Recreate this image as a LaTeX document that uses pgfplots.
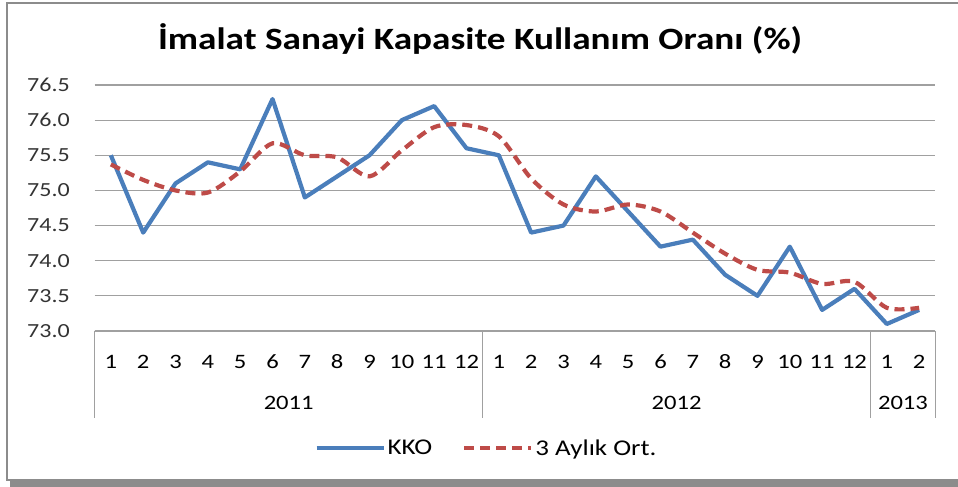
\documentclass[border=0pt]{standalone}
\usepackage{pgfplots}
\pgfplotsset{compat=1.18}
\usepackage{fontspec}
\setmainfont{Carlito}[FakeStretch=1.2]
\definecolor{kko}{HTML}{4A7EBB}
\definecolor{ort}{HTML}{BE4B48}
\definecolor{gridc}{HTML}{A0A0A0}
\definecolor{framec}{HTML}{8C8C8C}
\begin{document}
\begin{tikzpicture}
\useasboundingbox (0,0) rectangle (958bp,487bp);
% frame and shadow
\fill[framec] (10bp,0bp) rectangle (958bp,5.5bp);
\draw[framec, line width=1.5bp] (962bp,484bp) -- (7bp,484bp) -- (7bp,7bp) -- (962bp,7bp);
% title
\node[anchor=base, inner sep=0pt] at (480bp,437bp) {\fontsize{31bp}{36bp}\selectfont\bfseries İmalat Sanayi Kapasite Kullanım Oranı (\%)};
\begin{axis}[
  at={(94.7bp,156bp)}, anchor=south west,
  scale only axis, width=840.6bp, height=246bp,
  xmin=-0.5, xmax=25.5, ymin=73, ymax=76.5,
  clip=false,
  axis x line*=bottom,
  axis y line*=left,
  x axis line style={gridc, line width=1.2bp, -},
  y axis line style={draw=none},
  ytick={73,73.5,74,74.5,75,75.5,76,76.5},
  ymajorgrids, grid style={gridc, line width=1.2bp},
  major tick length=0pt,
  xtick={0,...,25},
  xticklabels={1,2,3,4,5,6,7,8,9,10,11,12,1,2,3,4,5,6,7,8,9,10,11,12,1,2},
  xticklabel style={anchor=center, yshift=-30.7bp, inner sep=0pt, font=\fontsize{20.5bp}{24bp}\selectfont},
  yticklabel style={anchor=east, xshift=-24.7bp, inner sep=0pt, font=\fontsize{20bp}{24bp}\selectfont, text=black!80},
  /pgf/number format/assume math mode=true,
  /pgf/number format/.cd, fixed, fixed zerofill, precision=1, /pgfplots/.cd,
  legend columns=2,
  legend style={at={(0.466,-0.4756)}, anchor=center, draw=none, fill=none,
    font=\fontsize{22.5bp}{26bp}\selectfont,
    /tikz/every even column/.append style={column sep=28bp}},
  legend image code/.code={\draw[#1] (0bp,0bp) -- (67bp,0bp);},
]
\addplot[kko, line width=4.2bp, line join=round] coordinates {
(0,75.5)(1,74.4)(2,75.1)(3,75.4)(4,75.3)(5,76.3)(6,74.9)(7,75.2)(8,75.5)(9,76.0)(10,76.2)(11,75.6)
(12,75.5)(13,74.4)(14,74.5)(15,75.2)(16,74.7)(17,74.2)(18,74.3)(19,73.8)(20,73.5)(21,74.2)(22,73.3)(23,73.6)
(24,73.1)(25,73.3)};
\addlegendentry{KKO}
\addplot[ort, line width=4.2bp, smooth, dash pattern=on 10bp off 6bp] coordinates {
(0,75.37)(1,75.15)(2,75.00)(3,74.97)(4,75.27)(5,75.67)(6,75.50)(7,75.47)(8,75.20)(9,75.57)(10,75.90)(11,75.93)
(12,75.77)(13,75.17)(14,74.80)(15,74.70)(16,74.80)(17,74.70)(18,74.40)(19,74.10)(20,73.87)(21,73.83)(22,73.67)(23,73.70)
(24,73.33)(25,73.33)};
\addlegendentry{3 Aylık Ort.}
% category box
\coordinate (c0) at (axis cs:-0.5,73);
\coordinate (c1) at (axis cs:11.5,73);
\coordinate (c2) at (axis cs:23.5,73);
\coordinate (c3) at (axis cs:25.5,73);
\node[font=\fontsize{20.5bp}{24bp}\selectfont, inner sep=0pt] at ([yshift=-72bp]axis cs:5.5,73) {2011};
\node[font=\fontsize{20.5bp}{24bp}\selectfont, inner sep=0pt] at ([yshift=-72bp]axis cs:17.5,73) {2012};
\node[font=\fontsize{20.5bp}{24bp}\selectfont, inner sep=0pt] at ([yshift=-72bp]axis cs:24.5,73) {2013};
\end{axis}
\foreach \c in {c0,c1,c2,c3} {\draw[gridc, line width=1.2bp] (\c) -- ([yshift=-87bp]\c);}
\end{tikzpicture}
\end{document}
